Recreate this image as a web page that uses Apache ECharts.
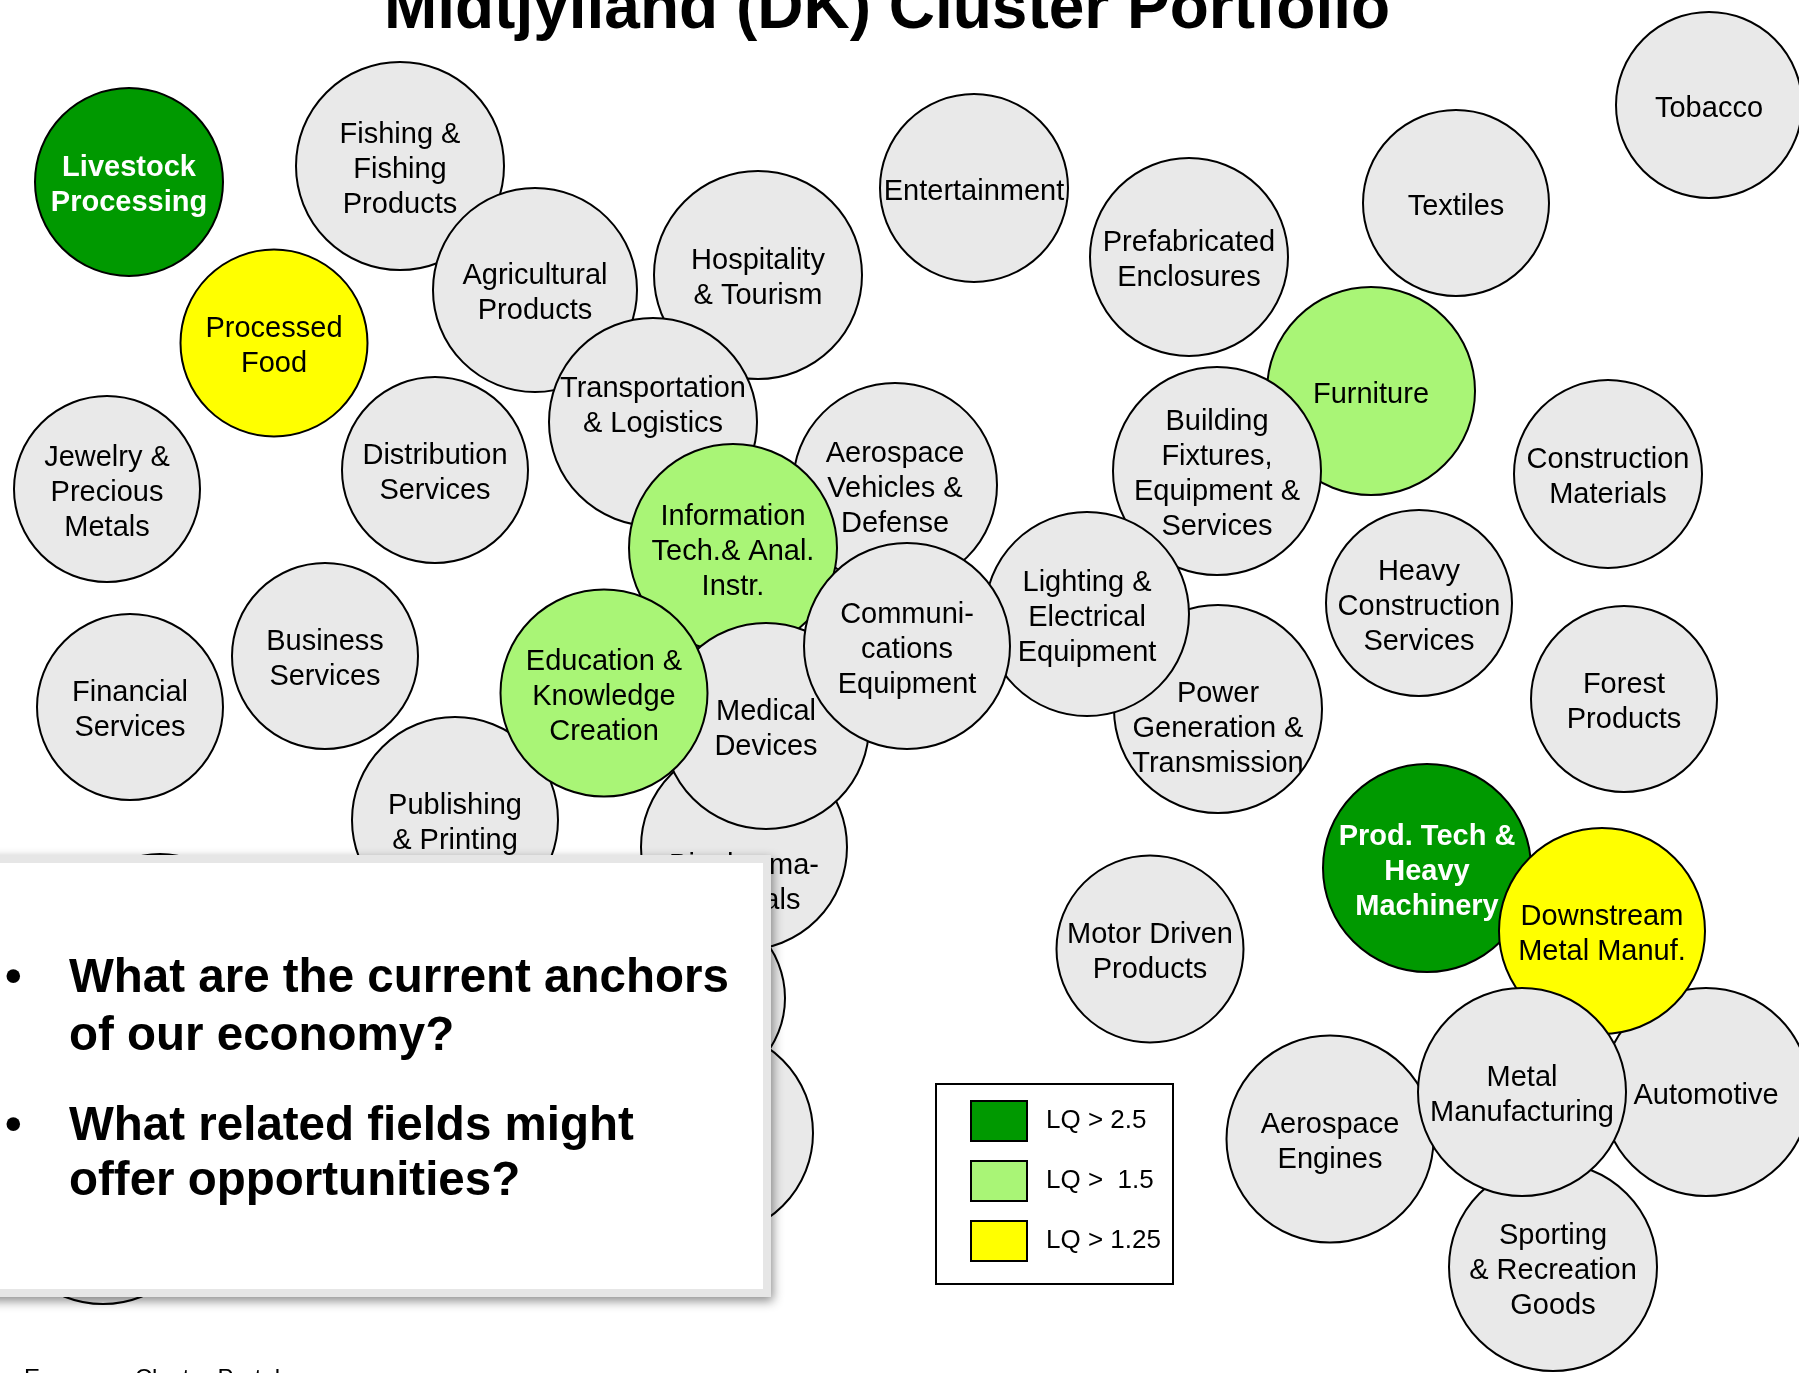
<!DOCTYPE html>
<html>
<head>
<meta charset="utf-8">
<script src="https://cdn.jsdelivr.net/npm/echarts@6/dist/echarts.min.js"></script>
<style>
html,body{margin:0;padding:0;background:#fff;}
#chart{width:1799px;height:1373px;}
</style>
</head>
<body>
<div id="chart"></div>
<script>
// ---- data (layout units of the cluster map) ----
const titleText = 'Midtjylland (DK) Cluster Portfolio';
const clusterLabels = [
  'Oil & Gas\nProducts', 'Chemical\nProducts', 'Plastics', 'Apparel',
  'Livestock\nProcessing', 'Fishing &\nFishing\nProducts', 'Agricultural\nProducts', 'Hospitality\n& Tourism',
  'Transportation\n& Logistics', 'Entertainment', 'Prefabricated\nEnclosures', 'Textiles', 'Tobacco',
  'Processed\nFood', 'Jewelry &\nPrecious\nMetals', 'Distribution\nServices', 'Aerospace\nVehicles &\nDefense',
  'Information\nTech.& Anal.\nInstr.', 'Furniture', 'Building\nFixtures,\nEquipment &\nServices',
  'Construction\nMaterials', 'Heavy\nConstruction\nServices', 'Business\nServices', 'Financial\nServices',
  'Biopharma-\nceuticals', 'Publishing\n& Printing', 'Medical\nDevices', 'Education &\nKnowledge\nCreation',
  'Power\nGeneration &\nTransmission', 'Lighting &\nElectrical\nEquipment', 'Communi-\ncations\nEquipment',
  'Forest\nProducts', 'Motor Driven\nProducts', 'Prod. Tech &\nHeavy\nMachinery', 'Automotive',
  'Downstream\nMetal Manuf.', 'Aerospace\nEngines', 'Sporting\n& Recreation\nGoods', 'Metal\nManufacturing'
];
const posX = [692, 710, 160, 103,
  129, 400, 535, 758, 653, 974, 1189, 1456, 1709, 274, 107, 435, 895, 733, 1371, 1217,
  1608, 1419, 325, 130, 744, 455, 766, 604, 1218, 1087, 907, 1624, 1150, 1427, 1706,
  1602, 1330, 1553, 1522];
const posY = [998, 1133, 947, 1200,
  182, 166, 290, 275, 422, 188, 257, 203, 105, 343, 489, 470, 485, 548, 391, 471,
  474, 603, 656, 707, 847, 820, 726, 693, 709, 614, 646, 699, 949, 868, 1092,
  931, 1139, 1267, 1092];
// bubble size (diameter units)
const bubbleSize = [186, 206, 186, 208,
  188, 208, 204, 208, 208, 188, 198, 186, 186, 187, 186, 186, 204, 208, 208, 208,
  188, 186, 186, 186, 206, 206, 206, 207, 208, 204, 206, 186, 187, 208, 208,
  206, 207, 208, 208];
// location quotient class: 0 = none, 1 = LQ > 1.25, 2 = LQ > 1.5, 3 = LQ > 2.5
const lqClass = [0, 0, 0, 0,
  3, 0, 0, 0, 0, 0, 0, 0, 0, 1, 0, 0, 0, 2, 2, 0,
  0, 0, 0, 0, 0, 0, 0, 2, 0, 0, 0, 0, 0, 3, 0,
  1, 0, 0, 0];
const hiddenLabel = [true, true, true, true];
const legendNames = ['LQ > 2.5', 'LQ >  1.5', 'LQ > 1.25'];
const bulletLines = ['What are the current anchors', 'of our economy?', 'What related fields might', 'offer opportunities?'];
const footerText = 'European Cluster Portal';

// ---- styles ----
const FONT = "'Liberation Sans', Arial, Helvetica, sans-serif";
const fillColors = ['#e9e9e9', '#ffff00', '#a9f576', '#009900'];
const labelShift = {'Transportation\n& Logistics': -19, 'Power\nGeneration &\nTransmission': 16, 'Biopharma-\nceuticals': 33};
const LABEL_DY = 3.5;

const data = clusterLabels.map(function (lab, i) {
  const cls = lqClass[i];
  const dark = cls === 3;
  return {
    name: lab,
    value: [posX[i], posY[i], bubbleSize[i]],
    itemStyle: {color: fillColors[cls]},
    label: {
      show: !hiddenLabel[i],
      color: dark ? '#ffffff' : '#000000',
      fontWeight: dark ? 'bold' : 'normal',
      offset: [0, LABEL_DY + (labelShift[lab] || 0)]
    }
  };
});

const chart = echarts.init(document.getElementById('chart'), null, {renderer: 'canvas'});
const option = {
  animation: false,
  backgroundColor: '#ffffff',
  grid: {left: 0, right: 0, top: 0, bottom: 0},
  xAxis: {type: 'value', min: 0, max: 1799, show: false},
  yAxis: {type: 'value', min: 0, max: 1373, inverse: true, show: false},
  legend: {
    orient: 'vertical',
    left: 970, top: 1100,
    padding: 0,
    itemWidth: 56, itemHeight: 40, itemGap: 18,
    icon: 'rect',
    selectedMode: false,
    itemStyle: {borderColor: '#000', borderWidth: 2, opacity: 1},
    textStyle: {fontSize: 26, fontFamily: FONT, color: '#000', padding: [8, 0, 0, 14]},
    data: legendNames
  },
  series: [
    {
      type: 'scatter',
      name: 'clusters',
      data: data,
      symbol: 'circle',
      symbolSize: function (v) { return v[2]; },
      itemStyle: {borderColor: '#000', borderWidth: 2, opacity: 1},
      label: {
        show: true, position: 'inside',
        formatter: function (p) { return p.name; },
        fontSize: 29, lineHeight: 35, fontFamily: FONT, align: 'center'
      },
      emphasis: {disabled: true},
      silent: true,
      z: 2
    },
    {type: 'scatter', name: legendNames[0], data: [], itemStyle: {color: fillColors[3], opacity: 1}},
    {type: 'scatter', name: legendNames[1], data: [], itemStyle: {color: fillColors[2], opacity: 1}},
    {type: 'scatter', name: legendNames[2], data: [], itemStyle: {color: fillColors[1], opacity: 1}}
  ],
  graphic: [
    {type: 'text', z: 100, style: {text: titleText, x: 887, y: 10, align: 'center', verticalAlign: 'middle',
      fontSize: 64, fontWeight: 'bold', fontFamily: FONT, fill: '#000'}},
    // legend frame
    {type: 'rect', z: 1, shape: {x: 936, y: 1084, width: 237, height: 200},
      style: {fill: 'rgba(0,0,0,0)', stroke: '#000', lineWidth: 2}},
    // question box
    {type: 'rect', z: 100, shape: {x: -20, y: 855, width: 791, height: 442},
      style: {fill: '#e6e6e6', shadowBlur: 10, shadowOffsetX: 2, shadowOffsetY: 4, shadowColor: 'rgba(0,0,0,0.45)'}},
    {type: 'rect', z: 101, shape: {x: -20, y: 863, width: 783, height: 426}, style: {fill: '#ffffff'}},
    {type: 'text', z: 102, style: {text: '\u2022', x: 5, y: 979, verticalAlign: 'middle', fontSize: 47.5, fontWeight: 'bold', fontFamily: FONT, fill: '#000'}},
    {type: 'text', z: 102, style: {text: '\u2022', x: 5, y: 1127, verticalAlign: 'middle', fontSize: 47.5, fontWeight: 'bold', fontFamily: FONT, fill: '#000'}},
    {type: 'text', z: 102, style: {text: bulletLines[0], x: 69, y: 979, verticalAlign: 'middle', fontSize: 47.5, fontWeight: 'bold', fontFamily: FONT, fill: '#000'}},
    {type: 'text', z: 102, style: {text: bulletLines[1], x: 69, y: 1037, verticalAlign: 'middle', fontSize: 47.5, fontWeight: 'bold', fontFamily: FONT, fill: '#000'}},
    {type: 'text', z: 102, style: {text: bulletLines[2], x: 69, y: 1127, verticalAlign: 'middle', fontSize: 47.5, fontWeight: 'bold', fontFamily: FONT, fill: '#000'}},
    {type: 'text', z: 102, style: {text: bulletLines[3], x: 69, y: 1182, verticalAlign: 'middle', fontSize: 47.5, fontWeight: 'bold', fontFamily: FONT, fill: '#000'}},
    {type: 'text', z: 100, style: {text: footerText, x: 24, y: 1379, verticalAlign: 'middle', fontSize: 24, fontFamily: FONT, fill: '#000'}}
  ]
};
chart.setOption(option);
</script>
</body>
</html>
